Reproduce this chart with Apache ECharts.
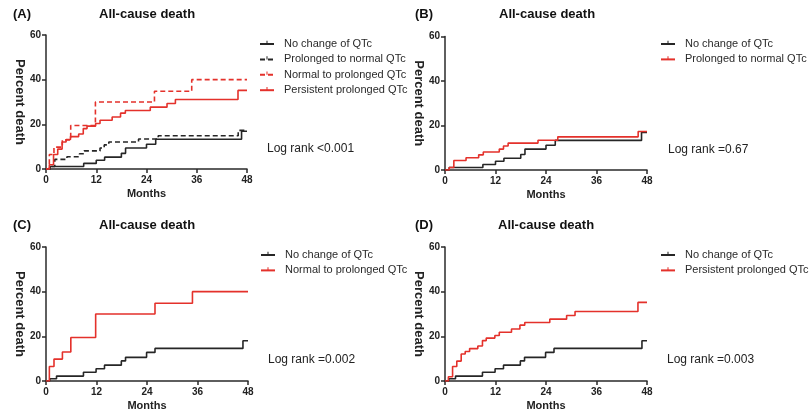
<!DOCTYPE html>
<html><head><meta charset="utf-8">
<script src="https://cdn.jsdelivr.net/npm/echarts@6/dist/echarts.min.js"></script>
<style>html,body{margin:0;padding:0;background:#fff}#c{width:809px;height:413px}</style>
</head><body><div id="c"></div>
<script>
// ---- data ----
const xTicks = [0, 12, 24, 36, 48];
const yTicks = [0, 20, 40, 60];
const panelLetters = ['(A)', '(B)', '(C)', '(D)'];
const panelTitle = 'All-cause death';
const logRankText = ['Log rank <0.001', 'Log rank =0.67', 'Log rank =0.002', 'Log rank =0.003'];

// No change of QTc (as drawn in panels A and B)
const noChangeAB_t = [0, 1.0, 9.0, 12.0, 14.0, 18.0, 19.0, 24.0, 26.2, 46.7, 48];
const noChangeAB_v = [0, 1.1, 2.5, 3.9, 5.3, 7.0, 9.4, 11.1, 13.3, 16.9, 16.9];
// No change of QTc (as drawn in panels C and D)
const noChangeCD_t = [0, 0.9, 2.5, 8.9, 11.9, 13.9, 17.9, 18.9, 23.9, 25.9, 46.8, 48];
const noChangeCD_v = [0, 1.0, 2.2, 3.9, 5.5, 7.1, 9.0, 10.6, 12.8, 14.6, 18.0, 18.0];
// Prolonged to normal QTc
const prolNorm_t = [0, 1.0, 2.1, 5.0, 8.0, 9.1, 12.9, 13.9, 15.0, 22.1, 26.8, 45.9, 48];
const prolNorm_v = [0, 1.1, 4.3, 5.5, 6.8, 8.1, 9.4, 10.8, 12.1, 13.4, 14.9, 17.3, 17.3];
// Normal to prolonged QTc
const normProl_t = [0, 0.8, 1.9, 3.9, 5.9, 11.8, 25.9, 34.8, 48];
const normProl_v = [0, 6.5, 9.8, 13.0, 19.5, 30.0, 34.8, 40.0, 40.0];
// Persistent prolonged QTc
const persist_t = [0, 0.8, 1.8, 2.8, 3.85, 4.8, 5.85, 7.8, 8.9, 9.8, 11.85, 12.9, 15.8, 17.8, 18.95, 24.9, 28.9, 30.9, 45.85, 48];
const persist_v = [0, 1.9, 6.5, 8.9, 12.1, 13.2, 14.5, 15.7, 18.1, 19.2, 20.4, 21.8, 23.3, 25.0, 26.2, 27.7, 29.3, 31.1, 35.2, 35.2];

const LBL_NC = 'No change of QTc', LBL_PN = 'Prolonged to normal QTc', LBL_NP = 'Normal to prolonged QTc', LBL_PP = 'Persistent prolonged QTc';

// ---- styling ----
const FONT = 'Liberation Sans, Arial, Helvetica, sans-serif';
const BLACK = '#262626', RED = '#e4312b', AX = '#2a2a2a';
const TICK_PATH = 'path://M0,0 M10,10 M4.2,0h1.6v5h-1.6z';

const grids = [
  {left: 46, top: 35, width: 201, height: 134},
  {left: 445, top: 36.5, width: 202, height: 133.5},
  {left: 46, top: 247, width: 202, height: 134},
  {left: 445, top: 247, width: 202, height: 134}
];
const legendPos = [
  {left: 259, top: 38}, {left: 660, top: 38}, {left: 260, top: 249}, {left: 660, top: 249}
];
const titlePos = [
  {lx: 13, tx: 99, y: 8}, {lx: 415, tx: 499, y: 8}, {lx: 13, tx: 99, y: 219}, {lx: 415, tx: 498, y: 219}
];
const logPos = [{x: 267, y: 150}, {x: 668, y: 151}, {x: 268, y: 361}, {x: 667, y: 361}];

function pairs(t, v) { return t.map((x, i) => [x, v[i]]); }

function mk(panel, label, t, v, color, dashed) {
  return {
    name: panel + '|' + label, type: 'line', step: 'end',
    xAxisIndex: panel, yAxisIndex: panel,
    data: pairs(t, v), symbol: TICK_PATH, showSymbol: false, animation: false,
    lineStyle: {color: color, width: 1.6, type: dashed ? [5, 3] : 'solid'},
    itemStyle: {color: color}, silent: true
  };
}

const series = [
  mk(0, LBL_NC, noChangeAB_t, noChangeAB_v, BLACK, false),
  mk(0, LBL_PN, prolNorm_t, prolNorm_v, BLACK, true),
  mk(0, LBL_NP, normProl_t, normProl_v, RED, true),
  mk(0, LBL_PP, persist_t, persist_v, RED, false),
  mk(1, LBL_NC, noChangeAB_t, noChangeAB_v, BLACK, false),
  mk(1, LBL_PN, prolNorm_t, prolNorm_v, RED, false),
  mk(2, LBL_NC, noChangeCD_t, noChangeCD_v, BLACK, false),
  mk(2, LBL_NP, normProl_t, normProl_v, RED, false),
  mk(3, LBL_NC, noChangeCD_t, noChangeCD_v, BLACK, false),
  mk(3, LBL_PP, persist_t, persist_v, RED, false)
];

const xAxes = grids.map((g, i) => ({
  gridIndex: i, type: 'value', min: xTicks[0], max: xTicks[xTicks.length - 1], interval: 12,
  name: 'Months', nameLocation: 'middle', nameGap: 19,
  nameTextStyle: {fontFamily: FONT, fontSize: 11, fontWeight: 'bold', color: '#222'},
  axisLine: {lineStyle: {color: AX, width: 1.5}},
  axisTick: {inside: false, length: 4, lineStyle: {color: AX, width: 1.5}},
  axisLabel: {fontFamily: FONT, fontSize: 10, fontWeight: 'bold', color: '#222', margin: 6},
  splitLine: {show: false}
}));
const yAxes = grids.map((g, i) => ({
  gridIndex: i, type: 'value', min: yTicks[0], max: yTicks[yTicks.length - 1], interval: 20,
  name: 'Percent death', nameLocation: 'middle', nameGap: 20, nameRotate: -90,
  nameTextStyle: {fontFamily: FONT, fontSize: 13, fontWeight: 'bold', color: '#222'},
  axisLine: {show: true, lineStyle: {color: AX, width: 1.5}},
  axisTick: {show: true, inside: false, length: 4, lineStyle: {color: AX, width: 1.5}},
  axisLabel: {fontFamily: FONT, fontSize: 10, fontWeight: 'bold', color: '#222', margin: 5},
  splitLine: {show: false}
}));

const panelSeriesNames = [0, 1, 2, 3].map(p => series.filter(s => s.xAxisIndex === p).map(s => s.name));
const legends = panelSeriesNames.map((names, i) => ({
  data: names, orient: 'vertical', left: legendPos[i].left, top: legendPos[i].top,
  itemWidth: 14, itemHeight: 8, itemGap: 3.4, padding: 0, selectedMode: false,
  formatter: n => n.split('|')[1],
  textStyle: {fontFamily: FONT, fontSize: 11, color: '#2a2a2a', padding: [0, 0, 0, 5], lineHeight: 12}
}));

const titles = [];
titlePos.forEach((p, i) => {
  titles.push({text: panelLetters[i], left: p.lx, top: p.y, padding: 0,
    textStyle: {fontFamily: FONT, fontSize: 13, fontWeight: 'bold', color: '#111'}});
  titles.push({text: panelTitle, left: p.tx, top: p.y, padding: 0,
    textStyle: {fontFamily: FONT, fontSize: 13, fontWeight: 'bold', color: '#111'}});
});

const graphics = logPos.map((p, i) => ({
  type: 'text', left: p.x, top: p.y - 7,
  style: {text: logRankText[i], font: '12px ' + FONT, fill: '#222'}
}));

const chart = echarts.init(document.getElementById('c'), null, {renderer: 'canvas'});
chart.setOption({
  animation: false, backgroundColor: '#fff',
  title: titles, grid: grids, xAxis: xAxes, yAxis: yAxes,
  legend: legends, series: series, graphic: graphics
});
</script></body></html>
